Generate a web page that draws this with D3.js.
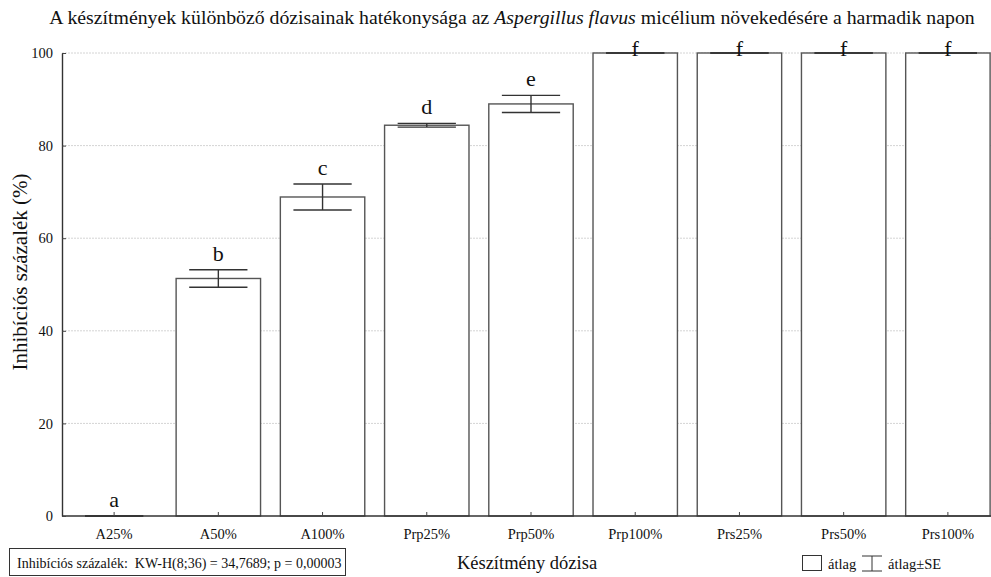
<!DOCTYPE html>
<html>
<head>
<meta charset="utf-8">
<script src="https://cdn.jsdelivr.net/npm/d3@7"></script>
</head>
<body style="margin:0">
<div id="chart"></div>
<script>
// data
const categories = ["A25%", "A50%", "A100%", "Prp25%", "Prp50%", "Prp100%", "Prs25%", "Prs50%", "Prs100%"];
const means = [0, 51.3, 68.9, 84.4, 89.0, 100, 100, 100, 100];
const se = [0, 1.9, 2.8, 0.4, 1.85, 0, 0, 0, 0];
const letters = ["a", "b", "c", "d", "e", "f", "f", "f", "f"];
const yTicks = [0, 20, 40, 60, 80, 100];

const FONT = "Liberation Serif";
const width = 991, height = 577;
const margin = { top: 53, right: -9, bottom: 61, left: 62 };

const svg = d3.select("#chart")
  .append("svg")
  .attr("width", width)
  .attr("height", height)
  .attr("font-family", FONT);

const x = d3.scaleBand()
  .domain(categories)
  .range([margin.left, width - margin.right])
  .paddingInner(0.19)
  .paddingOuter(0.095);

const y = d3.scaleLinear()
  .domain([0, 100])
  .range([height - margin.bottom, margin.top]);

// gridlines
svg.append("g")
  .selectAll("line")
  .data(yTicks.filter(d => d > 0))
  .join("line")
  .attr("x1", margin.left)
  .attr("x2", width)
  .attr("y1", d => y(d))
  .attr("y2", d => y(d))
  .attr("stroke", "#d4d4d4")
  .attr("stroke-width", 1)
  .attr("stroke-dasharray", "2,1");

// bars
svg.append("g")
  .selectAll("rect")
  .data(categories)
  .join("rect")
  .attr("x", d => x(d))
  .attr("y", (d, i) => y(means[i]))
  .attr("width", x.bandwidth())
  .attr("height", (d, i) => y(0) - y(means[i]))
  .attr("fill", "#fff")
  .attr("stroke", "#555")
  .attr("stroke-width", 1.4);

// error bars
const capW = x.bandwidth() * 0.69;
const err = svg.append("g")
  .attr("stroke", "#333")
  .attr("stroke-width", 1.4);
categories.forEach((c, i) => {
  const cx = x(c) + x.bandwidth() / 2;
  const hi = y(means[i] + se[i]), lo = y(means[i] - se[i]);
  err.append("line").attr("x1", cx).attr("x2", cx).attr("y1", hi).attr("y2", lo);
  err.append("line").attr("x1", cx - capW / 2).attr("x2", cx + capW / 2).attr("y1", hi).attr("y2", hi);
  err.append("line").attr("x1", cx - capW / 2).attr("x2", cx + capW / 2).attr("y1", lo).attr("y2", lo);
});

// significance letters
svg.append("g")
  .selectAll("text")
  .data(categories)
  .join("text")
  .attr("x", d => x(d) + x.bandwidth() / 2)
  .attr("y", (d, i) => Math.max(y(means[i] + se[i]) - 9, y(100) + 3))
  .attr("text-anchor", "middle")
  .attr("font-size", 22)
  .attr("fill", "#111")
  .text((d, i) => letters[i]);

// x axis
const xAxis = svg.append("g")
  .attr("transform", `translate(0,${y(0)})`)
  .call(d3.axisBottom(x).tickSize(-4).tickSizeOuter(0).tickPadding(13));
xAxis.attr("font-family", FONT);
xAxis.select(".domain").attr("stroke", "#333").attr("stroke-width", 1.4)
  .attr("d", `M${margin.left},0H${width}`);
xAxis.selectAll(".tick line").attr("stroke", "#444");
xAxis.selectAll("text").attr("font-size", 14.5).attr("fill", "#111");

// y axis
const yAxis = svg.append("g")
  .attr("transform", `translate(${margin.left},0)`)
  .call(d3.axisLeft(y).tickValues(yTicks).tickSize(-4).tickSizeOuter(0).tickPadding(9));
yAxis.attr("font-family", FONT);
yAxis.select(".domain").attr("stroke", "#333").attr("stroke-width", 1.4);
yAxis.selectAll(".tick line").attr("stroke", "#444");
yAxis.selectAll("text").attr("font-size", 14.5).attr("fill", "#111");

// title
const title = svg.append("text")
  .attr("x", 512)
  .attr("y", 23.5)
  .attr("text-anchor", "middle")
  .attr("font-size", 19.8)
  .attr("fill", "#111");
title.append("tspan").text("A készítmények különböző dózisainak hatékonysága az ");
title.append("tspan").attr("font-style", "italic").text("Aspergillus flavus");
title.append("tspan").text(" micélium növekedésére a harmadik napon");

// axis titles
svg.append("text")
  .attr("x", 527)
  .attr("y", 569)
  .attr("text-anchor", "middle")
  .attr("font-size", 18.5)
  .attr("fill", "#111")
  .text("Készítmény dózisa");

svg.append("text")
  .attr("transform", "translate(27,272) rotate(-90)")
  .attr("text-anchor", "middle")
  .attr("font-size", 21)
  .attr("fill", "#111")
  .text("Inhibíciós százalék (%)");

// stats box
svg.append("rect")
  .attr("x", 9.5).attr("y", 548.5)
  .attr("width", 336).attr("height", 27)
  .attr("fill", "none").attr("stroke", "#333").attr("stroke-width", 1);
svg.append("text")
  .attr("x", 17).attr("y", 568)
  .attr("font-size", 14)
  .attr("fill", "#111")
  .style("white-space", "pre")
  .text("Inhibíciós százalék:  KW-H(8;36) = 34,7689; p = 0,00003");

// legend
const lg = svg.append("g").attr("font-size", 14.5).attr("fill", "#111");
lg.append("rect")
  .attr("x", 802.5).attr("y", 555.5).attr("width", 19).attr("height", 15)
  .attr("fill", "#fff").attr("stroke", "#333").attr("stroke-width", 1);
lg.append("text").attr("x", 828).attr("y", 569).text("átlag");
lg.append("line").attr("x1", 862).attr("x2", 882).attr("y1", 556).attr("y2", 556).attr("stroke", "#333");
lg.append("line").attr("x1", 862).attr("x2", 882).attr("y1", 571).attr("y2", 571).attr("stroke", "#333");
lg.append("line").attr("x1", 872).attr("x2", 872).attr("y1", 556).attr("y2", 571).attr("stroke", "#333");
lg.append("text").attr("x", 888).attr("y", 569).text("átlag±SE");
</script>
</body>
</html>
